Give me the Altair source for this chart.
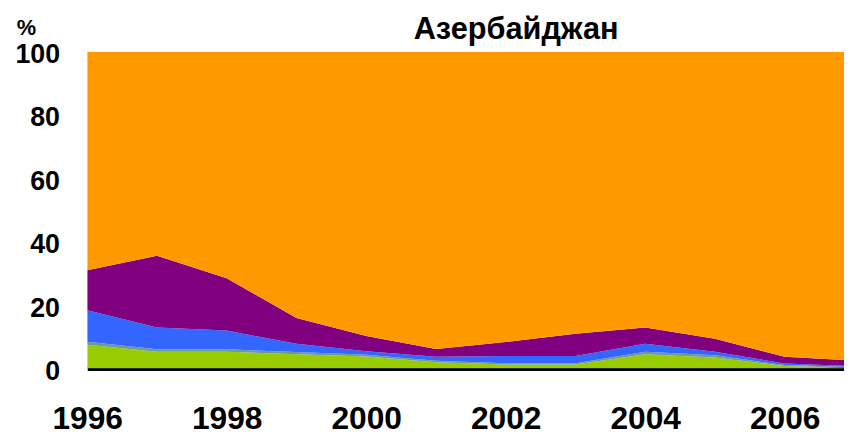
import altair as alt
import pandas as pd

years = [1996, 1997, 1998, 1999, 2000, 2001, 2002, 2003, 2004, 2005, 2006, 2007]
green = [7.5, 5.3, 5.3, 4.5, 3.8, 2.0, 1.3, 1.3, 4.5, 3.5, 0.8, 0.3]
teal = [1.0, 0.8, 0.8, 0.7, 0.6, 0.5, 0.4, 0.4, 0.8, 0.7, 0.3, 0.2]
blue = [9.9, 6.9, 5.9, 2.6, 1.1, 1.2, 2.3, 2.3, 2.5, 1.1, 0.5, 0.3]
purple = [12.6, 22.6, 16.5, 8.2, 4.8, 2.5, 4.4, 7.0, 5.2, 4.1, 2.1, 1.7]
orange = [round(100 - g - t - b - p, 1) for g, t, b, p in zip(green, teal, blue, purple)]
title_text = "Азербайджан"

series = [("A", green, "#99CC00"), ("B", teal, "#6A9A9A"), ("C", blue, "#3366FF"),
          ("D", purple, "#800080"), ("E", orange, "#FF9900")]

rows = []
for i, (name, vals, col) in enumerate(series):
    for y, v in zip(years, vals):
        rows.append({"year": y, "value": v, "series": name, "ord": i})
df = pd.DataFrame(rows)

FONT = "Liberation Sans"

area = alt.Chart(df).mark_area(clip=True).encode(
    x=alt.X("year:Q", scale=alt.Scale(domain=[1996, 2006.85], nice=False, zero=False),
            axis=alt.Axis(values=[1996, 1998, 2000, 2002, 2004, 2006], format="d",
                          title=None, grid=False, ticks=False, domainColor="black",
                          domainWidth=4, labelFontSize=32, labelFontWeight="bold",
                          labelFont=FONT, labelColor="black", labelPadding=35,
                          labelFlush=False)),
    y=alt.Y("value:Q", stack="zero", scale=alt.Scale(domain=[0, 100], nice=False),
            axis=alt.Axis(values=[0, 20, 40, 60, 80, 100], title="%", titleAngle=0,
                          titleX=-62, titleY=-24, titleAlign="center",
                          titleBaseline="middle", titleFontSize=22, titleFont=FONT,
                          titleFontWeight="bold", grid=False, ticks=False, domain=False,
                          labelFontSize=27, labelFontWeight="bold", labelFont=FONT,
                          labelColor="black", labelPadding=28, labelOffset=3)),
    color=alt.Color("series:N", scale=alt.Scale(domain=[s[0] for s in series],
                                                 range=[s[2] for s in series]),
                    legend=None),
    order=alt.Order("ord:Q"),
)

title = alt.Chart(pd.DataFrame({"t": [title_text]})).mark_text(
    font=FONT, fontSize=31, fontWeight="bold", color="black",
    align="center", baseline="alphabetic"
).encode(text="t:N", x=alt.value(433), y=alt.value(-13))

chart = alt.layer(area, title).properties(
    width=764, height=320,
    autosize=alt.AutoSizeParams(type="none"),
    padding={"left": 80, "top": 42, "right": 0, "bottom": 66},
).configure_view(stroke=None)

chart.save("out.html", embed_options={"renderer": "svg", "actions": False})
